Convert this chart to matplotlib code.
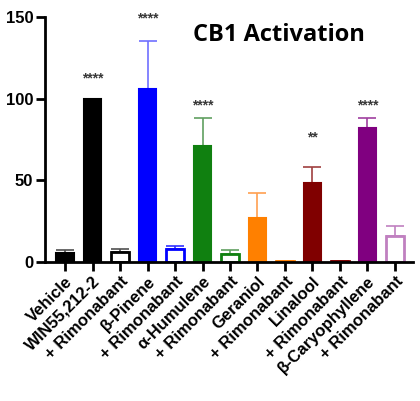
import numpy as np
import matplotlib
matplotlib.use('Agg')
import matplotlib.pyplot as plt

# data
labels = ['Vehicle', 'WIN55,212-2', '+ Rimonabant', 'β-Pinene', '+ Rimonabant',
          'α-Humulene', '+ Rimonabant', 'Geraniol', '+ Rimonabant', 'Linalool',
          '+ Rimonabant', 'β-Caryophyllene', '+ Rimonabant']
values = [5.5, 100, 6, 106, 8, 71, 5, 27, 0.5, 48, 0.5, 82, 16]
errors = [2, 0, 2, 29, 1.5, 17, 2.5, 15, 0.3, 10, 0.3, 6, 6]
stars = ['', '****', '', '****', '', '****', '', '', '', '**', '', '****', '']
star_y = [0, 112, 0, 149, 0, 96, 0, 0, 0, 76, 0, 96, 0]

# colours per compound: (bar colour, error bar colour)
colours = ['black', 'black', 'black', '#0000ff', '#0000ff', '#108010', '#108010',
           '#ff8000', '#ff8000', '#800000', '#800000', '#800080', '#c080c0']
err_colours = ['#505050', '#505050', '#505050', '#7070ff', '#3030ff', '#60a060', '#60a060',
               '#ffa050', '#ffa050', '#a04040', '#a04040', '#a040a0', '#c080c0']
filled = [True, True, False, True, False, True, False, True, False, True, False, True, False]

plt.rcParams['font.family'] = ['Liberation Sans', 'DejaVu Sans']

fig = plt.figure(figsize=(4.2, 4.01), dpi=100)
ax = fig.add_axes([0.107, 0.347, 0.876, 0.611])

x = np.arange(len(values))
for i in x:
    if filled[i]:
        ax.bar(i, values[i], width=0.65, color=colours[i], edgecolor=colours[i], linewidth=1.5, zorder=2)
    else:
        ax.bar(i, values[i], width=0.65, facecolor='white', edgecolor=colours[i], linewidth=2, zorder=2)
    if errors[i] > 0:
        ax.errorbar(i, values[i], yerr=[[0], [errors[i]]], fmt='none', ecolor=err_colours[i],
                    elinewidth=1.2, capsize=6.5, capthick=1.2, zorder=1)
    if stars[i]:
        ax.text(i, star_y[i], stars[i], ha='center', va='center', fontsize=10,
                color='#383838', fontweight='bold')

ax.set_xlim(-0.73, 12.65)
ax.set_ylim(0, 150)
ax.set_yticks([0, 50, 100, 150])
ax.set_xticks(x)
ax.set_xticklabels(labels, rotation=45, ha='right', rotation_mode='anchor',
                   fontsize=12, fontweight='bold')
for t in ax.get_yticklabels():
    t.set_fontsize(12)
    t.set_fontweight('bold')

for s in ['top', 'right']:
    ax.spines[s].set_visible(False)
for s in ['left', 'bottom']:
    ax.spines[s].set_linewidth(2)
ax.tick_params(axis='both', width=2, length=6.5, pad=2)

fig.text(0.665, 0.912, 'CB1 Activation', ha='center', va='center', fontsize=17,
         fontweight='bold', family=['Open Sans', 'DejaVu Sans'])

fig.savefig('out.png', dpi=100)
